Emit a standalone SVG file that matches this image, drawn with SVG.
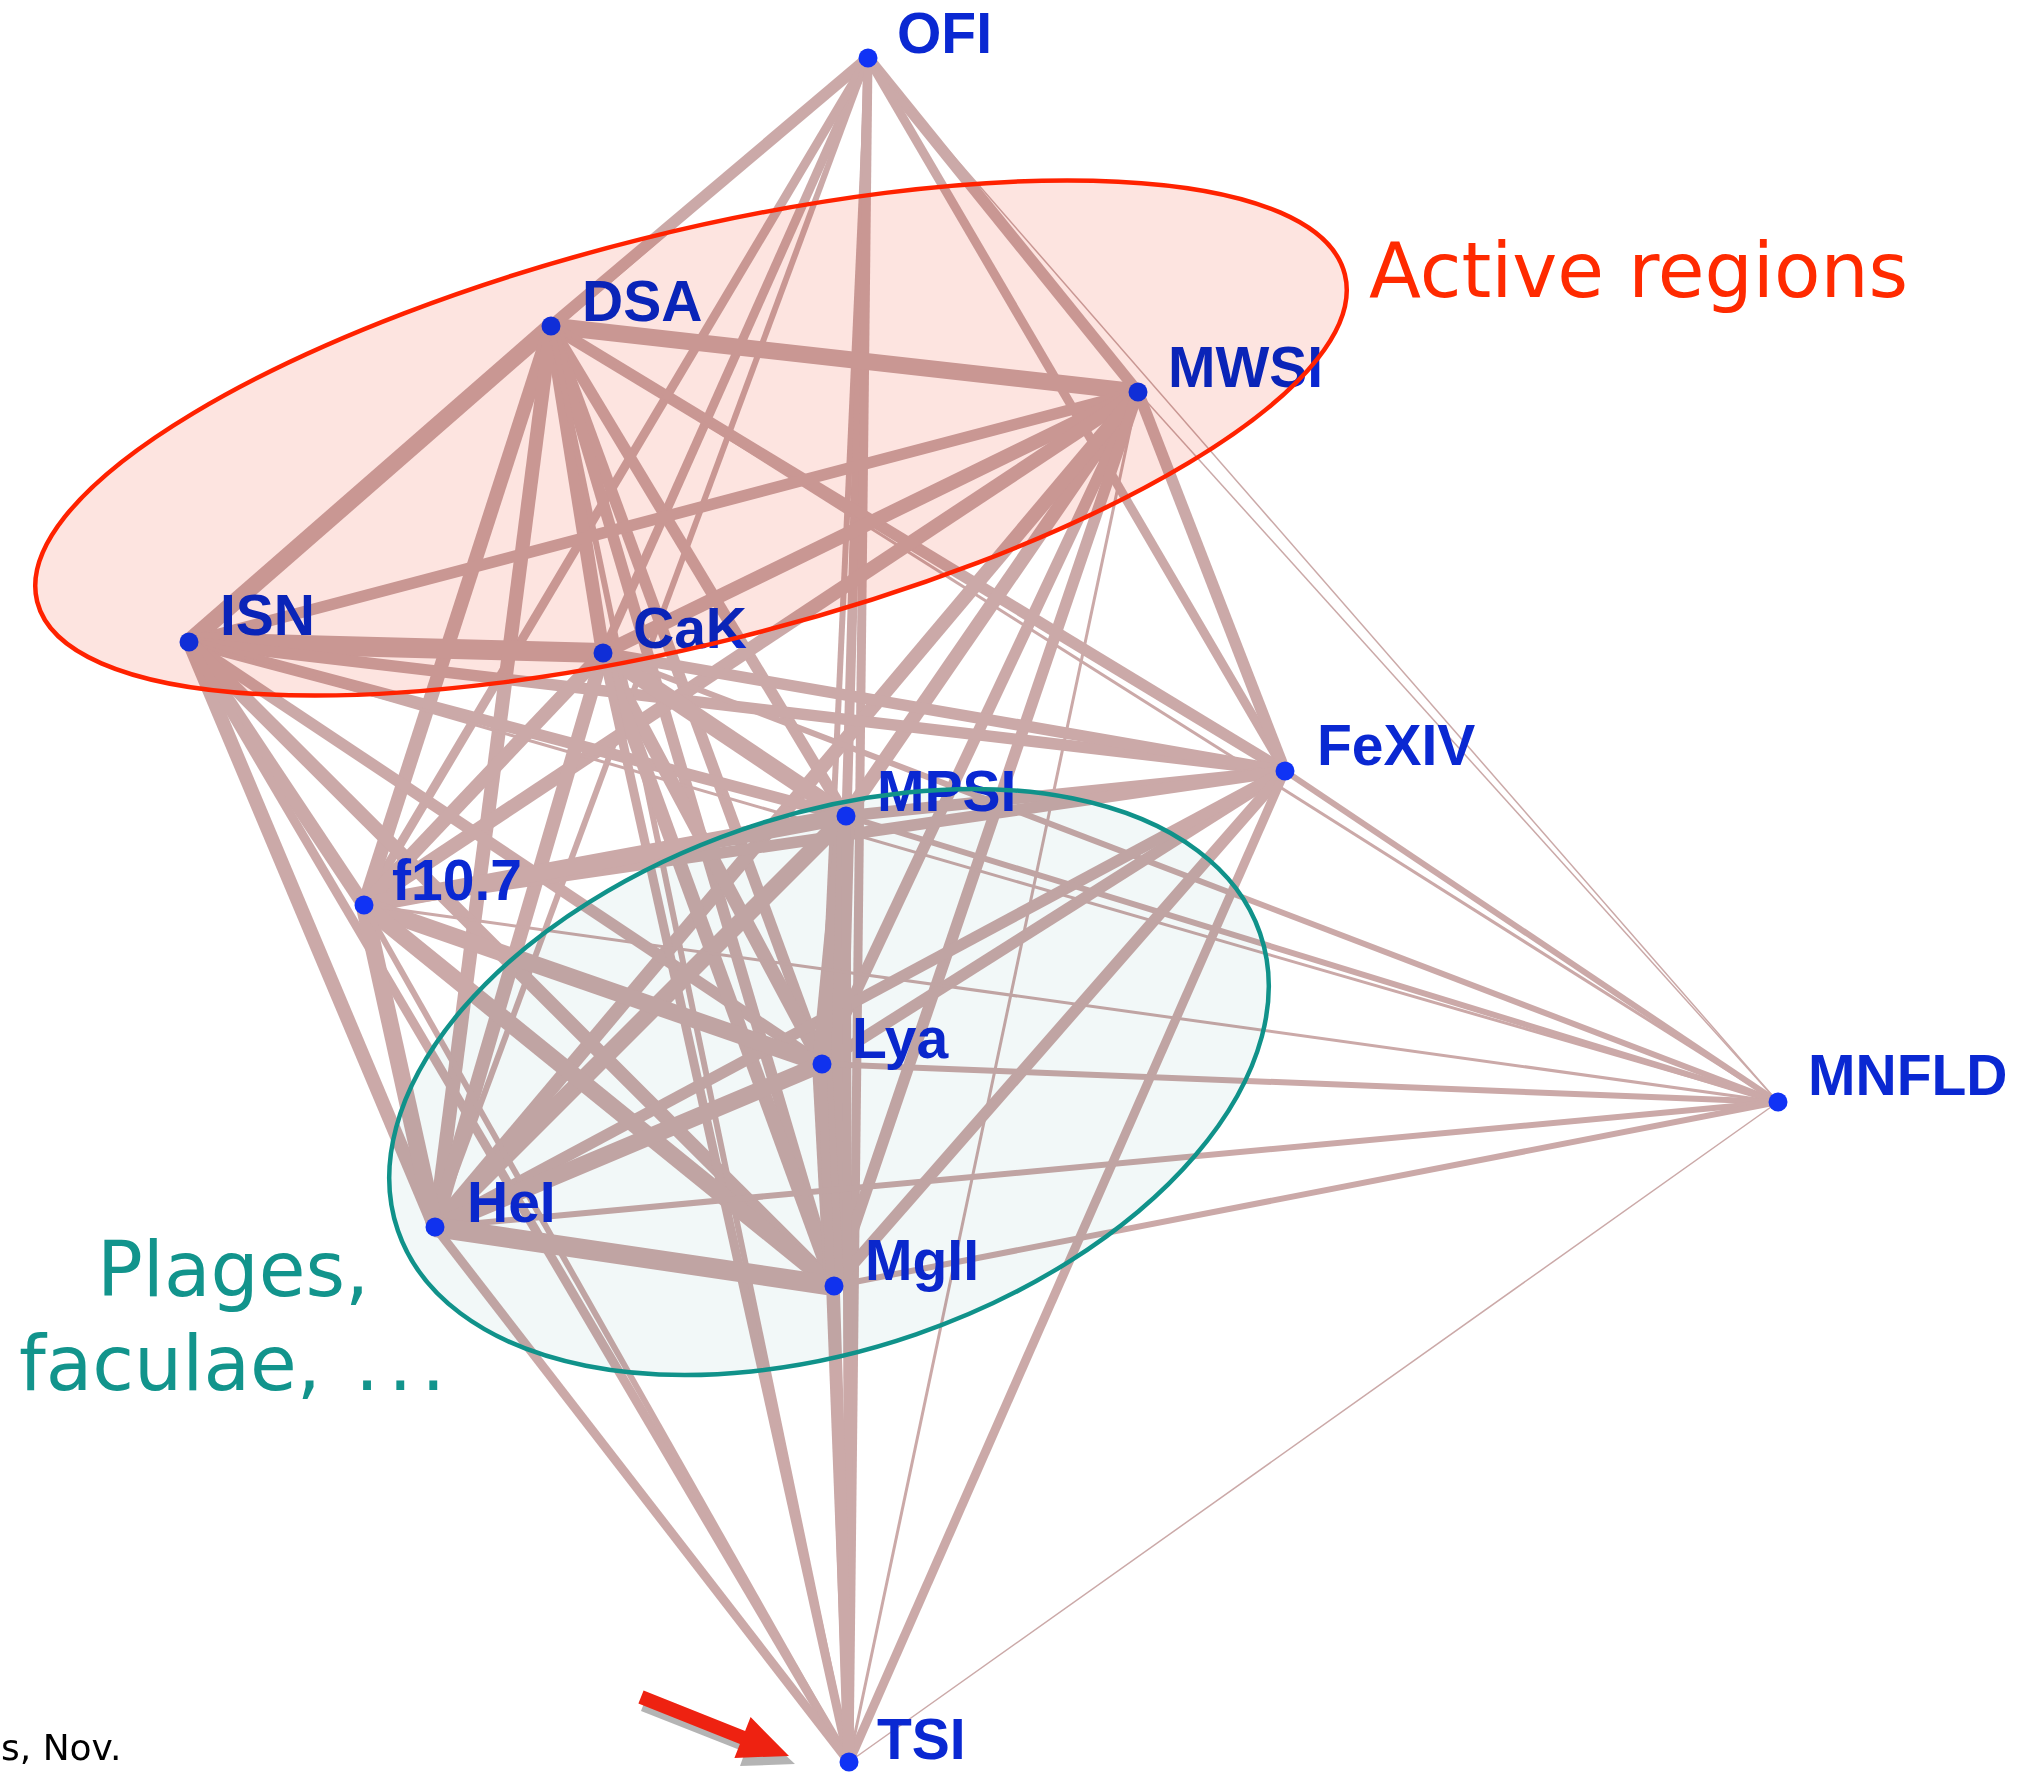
<svg xmlns="http://www.w3.org/2000/svg" width="2022" height="1772" viewBox="0 0 2022 1772">
<style>
.e{stroke:#cba9a8;stroke-linecap:butt;fill:none}
.w1{stroke-width:1.5}.w2{stroke-width:3}.w4{stroke-width:6}.w6{stroke-width:9}.w8{stroke-width:11.5}.w10{stroke-width:14}.w12{stroke-width:17}.w14{stroke-width:20}
.d{fill:#1033f5}
.l{font-family:"Liberation Sans",Arial,sans-serif;font-weight:bold;font-size:57px;fill:#0a28d2}
.ann{font-family:"DejaVu Sans",Verdana,sans-serif;font-size:76px}
</style>
<rect width="2022" height="1772" fill="#ffffff"/>
<g id="connectors">
<line class="e w8" x1="868" y1="58" x2="551" y2="326"/>
<line class="e w8" x1="868" y1="58" x2="1138" y2="392"/>
<line class="e w4" x1="868" y1="58" x2="189" y2="642"/>
<line class="e w6" x1="868" y1="58" x2="603" y2="653"/>
<line class="e w6" x1="868" y1="58" x2="1285" y2="771"/>
<line class="e w6" x1="868" y1="58" x2="846" y2="816"/>
<line class="e w6" x1="868" y1="58" x2="364" y2="905"/>
<line class="e w4" x1="868" y1="58" x2="822" y2="1064"/>
<line class="e w1" x1="868" y1="58" x2="1778" y2="1102"/>
<line class="e w4" x1="868" y1="58" x2="435" y2="1227"/>
<line class="e w6" x1="868" y1="58" x2="834" y2="1286"/>
<line class="e w6" x1="868" y1="58" x2="849" y2="1762"/>
<line class="e w12" x1="551" y1="326" x2="1138" y2="392"/>
<line class="e w12" x1="551" y1="326" x2="189" y2="642"/>
<line class="e w10" x1="551" y1="326" x2="603" y2="653"/>
<line class="e w8" x1="551" y1="326" x2="1285" y2="771"/>
<line class="e w8" x1="551" y1="326" x2="846" y2="816"/>
<line class="e w10" x1="551" y1="326" x2="364" y2="905"/>
<line class="e w8" x1="551" y1="326" x2="822" y2="1064"/>
<line class="e w2" x1="551" y1="326" x2="1778" y2="1102"/>
<line class="e w10" x1="551" y1="326" x2="435" y2="1227"/>
<line class="e w8" x1="551" y1="326" x2="834" y2="1286"/>
<line class="e w4" x1="551" y1="326" x2="849" y2="1762"/>
<line class="e w8" x1="1138" y1="392" x2="189" y2="642"/>
<line class="e w10" x1="1138" y1="392" x2="603" y2="653"/>
<line class="e w8" x1="1138" y1="392" x2="1285" y2="771"/>
<line class="e w10" x1="1138" y1="392" x2="846" y2="816"/>
<line class="e w10" x1="1138" y1="392" x2="364" y2="905"/>
<line class="e w8" x1="1138" y1="392" x2="822" y2="1064"/>
<line class="e w1" x1="1138" y1="392" x2="1778" y2="1102"/>
<line class="e w10" x1="1138" y1="392" x2="435" y2="1227"/>
<line class="e w8" x1="1138" y1="392" x2="834" y2="1286"/>
<line class="e w2" x1="1138" y1="392" x2="849" y2="1762"/>
<line class="e w14" x1="189" y1="642" x2="603" y2="653"/>
<line class="e w8" x1="189" y1="642" x2="1285" y2="771"/>
<line class="e w8" x1="189" y1="642" x2="846" y2="816"/>
<line class="e w10" x1="189" y1="642" x2="364" y2="905"/>
<line class="e w8" x1="189" y1="642" x2="822" y2="1064"/>
<line class="e w2" x1="189" y1="642" x2="1778" y2="1102"/>
<line class="e w10" x1="189" y1="642" x2="435" y2="1227"/>
<line class="e w10" x1="189" y1="642" x2="834" y2="1286"/>
<line class="e w6" x1="189" y1="642" x2="849" y2="1762"/>
<line class="e w8" x1="603" y1="653" x2="1285" y2="771"/>
<line class="e w12" x1="603" y1="653" x2="846" y2="816"/>
<line class="e w10" x1="603" y1="653" x2="364" y2="905"/>
<line class="e w10" x1="603" y1="653" x2="822" y2="1064"/>
<line class="e w4" x1="603" y1="653" x2="1778" y2="1102"/>
<line class="e w10" x1="603" y1="653" x2="435" y2="1227"/>
<line class="e w10" x1="603" y1="653" x2="834" y2="1286"/>
<line class="e w6" x1="603" y1="653" x2="849" y2="1762"/>
<line class="e w8" x1="1285" y1="771" x2="846" y2="816"/>
<line class="e w8" x1="1285" y1="771" x2="364" y2="905"/>
<line class="e w8" x1="1285" y1="771" x2="822" y2="1064"/>
<line class="e w4" x1="1285" y1="771" x2="1778" y2="1102"/>
<line class="e w8" x1="1285" y1="771" x2="435" y2="1227"/>
<line class="e w8" x1="1285" y1="771" x2="834" y2="1286"/>
<line class="e w6" x1="1285" y1="771" x2="849" y2="1762"/>
<line class="e w12" x1="846" y1="816" x2="364" y2="905"/>
<line class="e w14" x1="846" y1="816" x2="822" y2="1064"/>
<line class="e w4" x1="846" y1="816" x2="1778" y2="1102"/>
<line class="e w12" x1="846" y1="816" x2="435" y2="1227"/>
<line class="e w12" x1="846" y1="816" x2="834" y2="1286"/>
<line class="e w6" x1="846" y1="816" x2="849" y2="1762"/>
<line class="e w12" x1="364" y1="905" x2="822" y2="1064"/>
<line class="e w2" x1="364" y1="905" x2="1778" y2="1102"/>
<line class="e w12" x1="364" y1="905" x2="435" y2="1227"/>
<line class="e w12" x1="364" y1="905" x2="834" y2="1286"/>
<line class="e w4" x1="364" y1="905" x2="849" y2="1762"/>
<line class="e w4" x1="822" y1="1064" x2="1778" y2="1102"/>
<line class="e w12" x1="822" y1="1064" x2="435" y2="1227"/>
<line class="e w14" x1="822" y1="1064" x2="834" y2="1286"/>
<line class="e w6" x1="822" y1="1064" x2="849" y2="1762"/>
<line class="e w4" x1="1778" y1="1102" x2="435" y2="1227"/>
<line class="e w4" x1="1778" y1="1102" x2="834" y2="1286"/>
<line class="e w1" x1="1778" y1="1102" x2="849" y2="1762"/>
<line class="e w14" x1="435" y1="1227" x2="834" y2="1286"/>
<line class="e w6" x1="435" y1="1227" x2="849" y2="1762"/>
<line class="e w8" x1="834" y1="1286" x2="849" y2="1762"/>
</g>
<g id="node-OFI"><circle class="d" cx="868" cy="58" r="9.5"/><text class="l" x="897" y="53">OFI</text></g>
<g id="node-DSA"><circle class="d" cx="551" cy="326" r="9.5"/><text class="l" x="582" y="321">DSA</text></g>
<g id="node-MWSI"><circle class="d" cx="1138" cy="392" r="9.5"/><text class="l" x="1168" y="387">MWSI</text></g>
<g id="node-ISN"><circle class="d" cx="189" cy="642" r="9.5"/><text class="l" x="220" y="635">ISN</text></g>
<g id="node-CaK"><circle class="d" cx="603" cy="653" r="9.5"/><text class="l" x="633" y="648">CaK</text></g>
<g id="node-FeXIV"><circle class="d" cx="1285" cy="771" r="9.5"/><text class="l" x="1317" y="765">FeXIV</text></g>
<g id="node-MPSI"><circle class="d" cx="846" cy="816" r="9.5"/><text class="l" x="877" y="811">MPSI</text></g>
<g id="node-f10.7"><circle class="d" cx="364" cy="905" r="9.5"/><text class="l" x="392" y="900">f10.7</text></g>
<g id="node-Lya"><circle class="d" cx="822" cy="1064" r="9.5"/><text class="l" x="852" y="1058">Lya</text></g>
<g id="node-MNFLD"><circle class="d" cx="1778" cy="1102" r="9.5"/><text class="l" x="1808" y="1095">MNFLD</text></g>
<g id="node-HeI"><circle class="d" cx="435" cy="1227" r="9.5"/><text class="l" x="467" y="1222">HeI</text></g>
<g id="node-MgII"><circle class="d" cx="834" cy="1286" r="9.5"/><text class="l" x="865" y="1280">MgII</text></g>
<g id="node-TSI"><circle class="d" cx="849" cy="1762" r="9.5"/><text class="l" x="877" y="1759">TSI</text></g>
<g id="active-regions">
<ellipse cx="691" cy="438" rx="674" ry="205" transform="rotate(-14.05 691 438)" fill="#fde4e0" stroke="none" style="mix-blend-mode:multiply"/>
<ellipse cx="691" cy="438" rx="674" ry="205" transform="rotate(-14.05 691 438)" fill="none" stroke="#ff2200" stroke-width="4.5"/>
<text class="ann" x="1369" y="297" fill="#ff2a00">Active regions</text>
</g>
<g id="plages">
<ellipse cx="829" cy="1082" rx="456" ry="267" transform="rotate(-19.05 829 1082)" fill="#f2f8f8" stroke="none" style="mix-blend-mode:multiply"/>
<ellipse cx="829" cy="1082" rx="456" ry="267" transform="rotate(-19.05 829 1082)" fill="none" stroke="#10928a" stroke-width="4.5"/>
<text class="ann" x="97" y="1296" fill="#12948c">Plages,</text>
<text class="ann" x="19" y="1390" fill="#12948c">faculae, <tspan dx="10" letter-spacing="9">...</tspan></text>
</g>
<g id="arrow">
<polygon points="646,1698 748,1739 753,1725 795,1764 740,1766 745,1752 641,1711" fill="#444" opacity="0.4"/>
<polygon points="643.6,1690.5 745.1,1731 750.6,1717.1 789,1756 734.4,1757.9 739.9,1744 638.4,1703.5" fill="#ee2211"/>
</g>
<text x="1" y="1760" font-family="'DejaVu Sans',Verdana,sans-serif" font-size="36" fill="#000">s, Nov.</text>
</svg>
